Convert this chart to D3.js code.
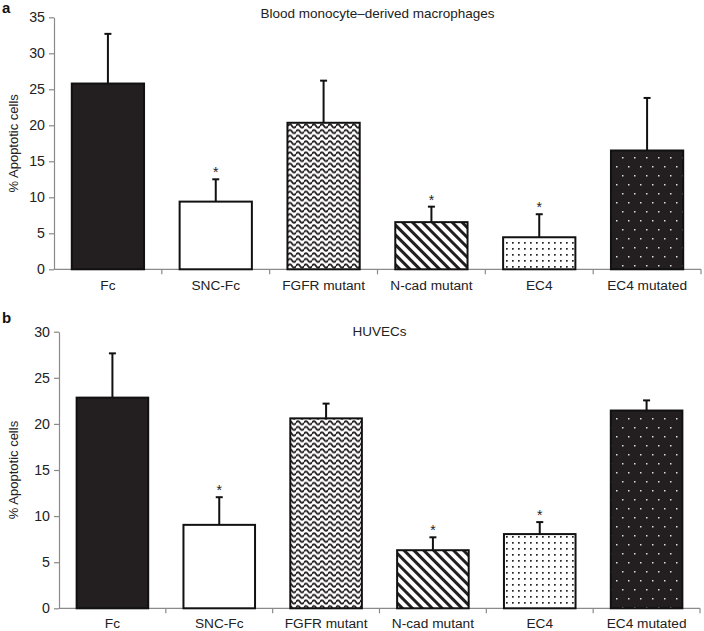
<!DOCTYPE html>
<html>
<head>
<meta charset="utf-8">
<script src="https://cdn.jsdelivr.net/npm/d3@7"></script>
<style>
  body { margin: 0; background: #fff; }
  svg { display: block; font-family: "Liberation Sans", Arial, sans-serif; }
</style>
</head>
<body>
<svg id="chart" width="704" height="631"></svg>
<script>
const categories = ["Fc", "SNC-Fc", "FGFR mutant", "N-cad mutant", "EC4", "EC4 mutated"];
const fills = ["solid", "white", "zigzag", "diagonal", "dots", "darkdots"];

const macroTitle = "Blood monocyte\u2013derived macrophages";
const macroMean = [25.8, 9.4, 20.35, 6.55, 4.45, 16.5];
const macroErr  = [6.9, 3.1, 5.85, 2.15, 3.2, 7.3];
const macroStar = [false, true, false, true, true, false];
const macroTicks = [0, 5, 10, 15, 20, 25, 30, 35];

const huvecTitle = "HUVECs";
const huvecMean = [22.85, 9.05, 20.6, 6.3, 8.05, 21.45];
const huvecErr  = [4.8, 3.0, 1.6, 1.4, 1.3, 1.1];
const huvecStar = [false, true, false, true, true, false];
const huvecTicks = [0, 5, 10, 15, 20, 25, 30];

const svg = d3.select("#chart");
const defs = svg.append("defs");
const ink = "#231f20";

// zigzag pattern
const pz = defs.append("pattern").attr("id", "zigzag").attr("patternUnits", "userSpaceOnUse")
  .attr("width", 8).attr("height", 5.6);
pz.append("rect").attr("width", 8).attr("height", 5.6).attr("fill", "#fff");
pz.append("path").attr("d", "M0,2.8 C1.3,0.6 2.7,0.6 4,2.8 C5.3,5 6.7,5 8,2.8").attr("fill", "none")
  .attr("stroke", ink).attr("stroke-width", 1.8);

// diagonal pattern
const pd = defs.append("pattern").attr("id", "diagonal").attr("patternUnits", "userSpaceOnUse")
  .attr("width", 7).attr("height", 7).attr("patternTransform", "rotate(-45)");
pd.append("rect").attr("width", 7).attr("height", 7).attr("fill", "#fff");
pd.append("rect").attr("x", 0).attr("width", 3).attr("height", 7).attr("fill", ink);

// white with black dots
const pdots = defs.append("pattern").attr("id", "dots").attr("patternUnits", "userSpaceOnUse")
  .attr("width", 6).attr("height", 6);
pdots.append("rect").attr("width", 6).attr("height", 6).attr("fill", "#fff");
pdots.append("rect").attr("x", 2).attr("y", 2).attr("width", 1.7).attr("height", 1.7).attr("fill", "#222");

// black with white dots
const pdd = defs.append("pattern").attr("id", "darkdots").attr("patternUnits", "userSpaceOnUse")
  .attr("width", 12).attr("height", 18);
pdd.append("rect").attr("width", 12).attr("height", 18).attr("fill", ink);
pdd.append("rect").attr("x", 4).attr("y", 4).attr("width", 1.5).attr("height", 1.5).attr("fill", "#ddd");
pdd.append("rect").attr("x", 10).attr("y", 13).attr("width", 1.5).attr("height", 1.5).attr("fill", "#ddd");

function fillFor(f) {
  if (f === "solid") return ink;
  if (f === "white") return "#fff";
  return "url(#" + f + ")";
}

function panel(opts) {
  const { letter, title, mean, err, star, ticks, x0, x1, yTop, yBottom, letterY, titleY, labelY } = opts;
  const g = svg.append("g");
  const x = d3.scaleBand().domain(categories).range([x0, x1]).paddingInner(0.33).paddingOuter(0.165);
  const xEdges = d3.scaleLinear().domain([0, categories.length]).range([x0, x1]);
  const y = d3.scaleLinear().domain([0, d3.max(ticks)]).range([yBottom, yTop]);

  // Y axis
  const ya = g.append("g").attr("transform", `translate(${x0},0)`)
    .call(d3.axisLeft(y).tickValues(ticks).tickSize(5).tickSizeOuter(0).tickPadding(4));
  ya.select(".domain").attr("stroke", "#8a8a8a").attr("stroke-width", 1.2);
  ya.selectAll(".tick line").attr("stroke", "#8a8a8a").attr("stroke-width", 1.2);
  ya.selectAll(".tick text").attr("font-size", 14.2).attr("fill", "#222")
    .attr("font-family", "Liberation Sans, Arial, sans-serif");

  // X axis baseline
  g.append("line").attr("x1", x0).attr("x2", x1).attr("y1", yBottom).attr("y2", yBottom)
    .attr("stroke", "#8a8a8a").attr("stroke-width", 1.2);
  g.selectAll(".xt").data(d3.range(1, categories.length + 1)).enter().append("line")
    .attr("x1", d => xEdges(d)).attr("x2", d => xEdges(d))
    .attr("y1", yBottom).attr("y2", yBottom + 5)
    .attr("stroke", "#8a8a8a").attr("stroke-width", 1.2);
  g.selectAll(".xl").data(categories).enter().append("text")
    .attr("x", d => x(d) + x.bandwidth() / 2).attr("y", labelY)
    .attr("text-anchor", "middle").attr("font-size", 13.7).attr("fill", "#222").text(d => d);

  // error bars
  const data = categories.map((c, i) => ({ c, m: mean[i], e: err[i], s: star[i], f: fills[i] }));
  const cx = d => x(d.c) + x.bandwidth() / 2;
  g.selectAll(".eb").data(data).enter().append("line")
    .attr("x1", cx).attr("x2", cx).attr("y1", d => y(d.m)).attr("y2", d => y(d.m + d.e))
    .attr("stroke", "#111").attr("stroke-width", 2);
  g.selectAll(".ec").data(data).enter().append("line")
    .attr("x1", d => cx(d) - 3.5).attr("x2", d => cx(d) + 3.5)
    .attr("y1", d => y(d.m + d.e)).attr("y2", d => y(d.m + d.e))
    .attr("stroke", "#111").attr("stroke-width", 2);

  // bars
  g.selectAll(".bar").data(data).enter().append("rect")
    .attr("x", d => x(d.c)).attr("width", x.bandwidth())
    .attr("y", d => y(d.m)).attr("height", d => y(0) - y(d.m))
    .attr("fill", d => fillFor(d.f)).attr("stroke", "#111").attr("stroke-width", 2);

  // stars
  g.selectAll(".star").data(data.filter(d => d.s)).enter().append("text")
    .attr("x", cx).attr("y", d => y(d.m + d.e) - 2)
    .attr("text-anchor", "middle").attr("font-size", 14).attr("fill", "#222").text("*");

  // title
  g.append("text").attr("x", (x0 + x1) / 2).attr("y", titleY).attr("text-anchor", "middle")
    .attr("font-size", 13.5).attr("fill", "#222").text(title);

  // y label
  g.append("text").attr("transform", `translate(18,${(yTop + yBottom) / 2}) rotate(-90)`)
    .attr("text-anchor", "middle").attr("font-size", 13).attr("fill", "#222").text("% Apoptotic cells");

  // panel letter
  g.append("text").attr("x", 2).attr("y", letterY).attr("font-size", 15).attr("font-weight", "bold")
    .attr("fill", "#111").text(letter);
}

panel({ letter: "a", title: macroTitle, mean: macroMean, err: macroErr, star: macroStar, ticks: macroTicks,
  x0: 54, x1: 701, yTop: 17.3, yBottom: 269.3, letterY: 13, titleY: 18, labelY: 290 });
panel({ letter: "b", title: huvecTitle, mean: huvecMean, err: huvecErr, star: huvecStar, ticks: huvecTicks,
  x0: 59, x1: 700, yTop: 331.7, yBottom: 608.3, letterY: 323, titleY: 336, labelY: 628 });
</script>
</body>
</html>
